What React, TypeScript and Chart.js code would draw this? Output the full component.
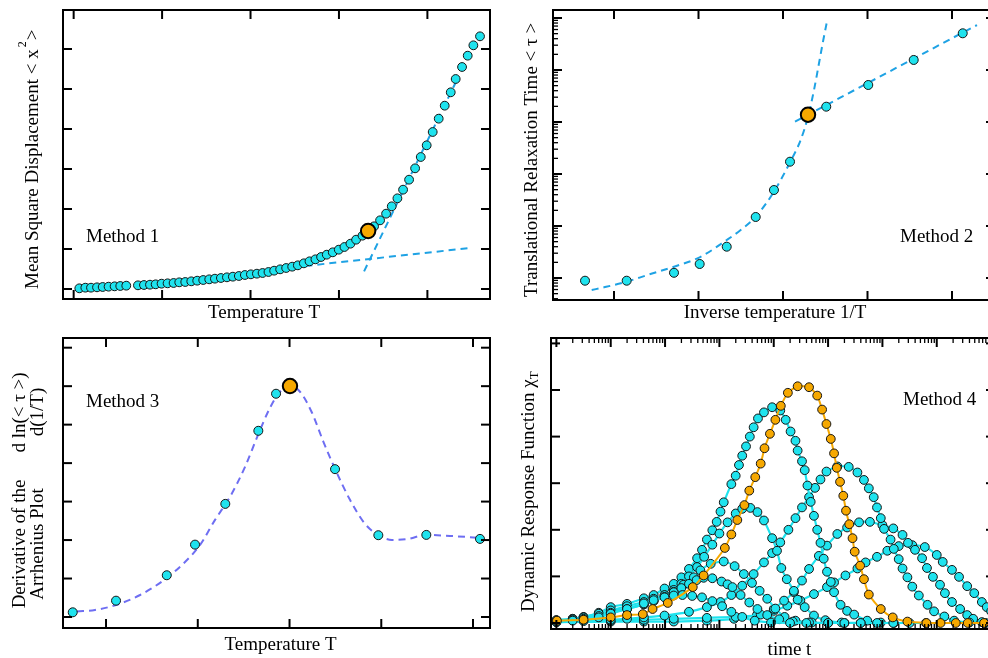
import React, { useEffect, useRef } from 'react';
import { Chart, registerables } from 'chart.js';

Chart.register(...registerables);

// ---------------- data ----------------
// Panel 1: mean square displacement vs temperature
const P1_TEMPERATURE = [1.064, 1.132, 1.196, 1.264, 1.328, 1.395, 1.463, 1.527, 1.595, 1.727, 1.795, 1.863, 1.927, 1.994, 2.062, 2.13, 2.194, 2.262, 2.33, 2.397, 2.465, 2.533, 2.597, 2.665, 2.733, 2.8, 2.868, 2.936, 3.004, 3.072, 3.136, 3.203, 3.267, 3.335, 3.403, 3.471, 3.535, 3.603, 3.667, 3.734, 3.798, 3.862, 3.93, 3.998, 4.062, 4.13, 4.194, 4.266, 4.33, 4.397, 4.465, 4.533, 4.597, 4.661, 4.725, 4.793, 4.861, 4.925, 4.992, 5.06, 5.128, 5.196, 5.264, 5.32, 5.392, 5.456, 5.52, 5.595];
const P1_MSD = [0.017, 0.033, 0.033, 0.042, 0.05, 0.058, 0.067, 0.075, 0.083, 0.092, 0.1, 0.108, 0.117, 0.133, 0.142, 0.15, 0.167, 0.175, 0.192, 0.208, 0.225, 0.242, 0.258, 0.275, 0.292, 0.308, 0.325, 0.35, 0.367, 0.383, 0.4, 0.425, 0.458, 0.492, 0.525, 0.558, 0.592, 0.642, 0.692, 0.742, 0.8, 0.858, 0.917, 0.983, 1.05, 1.133, 1.233, 1.333, 1.45, 1.567, 1.717, 1.883, 2.067, 2.267, 2.483, 2.733, 3.017, 3.3, 3.592, 3.925, 4.258, 4.583, 4.917, 5.25, 5.55, 5.833, 6.092, 6.317];
const P1_LOW_FIT_T = [3.486, 5.482];
const P1_LOW_FIT_MSD = [0.544, 1.025];
const P1_HIGH_FIT_T = [4.284, 5.35];
const P1_HIGH_FIT_MSD = [0.442, 5.3];
const P1_TRANSITION_T = [4.33];
const P1_TRANSITION_MSD = [1.45];
const P1_X_TICKS = [1, 2, 3, 4, 5];
const P1_Y_TICKS = [0, 1, 2, 3, 4, 5, 6];

// Panel 2: relaxation time vs inverse temperature
const P2_INV_T = [0.657, 1.15, 1.71, 2.014, 2.334, 2.677, 2.893, 3.083, 3.296, 3.512, 4.009, 4.547, 5.127];
const P2_TAU = [0.887, 0.887, 1.26, 1.86, 4.0, 14.9, 49.2, 172.5, 1380, 1970, 5150, 15600, 50800];
const P2_VFT_INV_T = [0.736, 0.882, 1.15, 1.394, 1.71, 2.014, 2.334, 2.499, 2.677, 2.893, 3.083, 3.209, 3.296, 3.367, 3.426, 3.477, 3.524];
const P2_VFT_TAU = [0.588, 0.662, 0.849, 1.14, 1.65, 2.5, 5.38, 8.37, 15.1, 45.7, 168, 451, 1265, 4125, 13460, 37760, 91600];
const P2_ARR_INV_T = [3.142, 5.296];
const P2_ARR_TAU = [1014, 73300];
const P2_TRANSITION_INV_T = [3.296];
const P2_TRANSITION_TAU = [1380];
const P2_X_TICKS = [1, 2, 3, 4, 5];
const P2_Y_DECADES = [0.1, 1, 10, 100, 1000, 10000, 100000];

// Panel 3: derivative of the Arrhenius plot vs temperature
const P3_TEMPERATURE = [0.637, 1.109, 1.662, 1.97, 2.3, 2.66, 2.853, 3.005, 3.496, 3.968, 4.491, 5.076];
const P3_DERIV = [0.122, 0.424, 1.085, 1.881, 2.94, 4.84, 5.803, 6.003, 3.843, 2.126, 2.134, 2.03];
const P3_FIT_T = [0.684, 0.88, 1.109, 1.371, 1.662, 1.861, 2.025, 2.188, 2.351, 2.515, 2.657, 2.787, 2.896, 3.005, 3.114, 3.245, 3.365, 3.496, 3.659, 3.823, 3.965, 4.117, 4.292, 4.488, 4.749, 5.076];
const P3_FIT_DERIV = [0.143, 0.182, 0.312, 0.572, 1.015, 1.431, 1.874, 2.524, 3.123, 3.903, 4.736, 5.438, 5.855, 6.011, 5.855, 5.308, 4.58, 3.851, 3.045, 2.42, 2.134, 2.004, 2.03, 2.134, 2.108, 2.056];
const P3_TRANSITION_T = [3.005];
const P3_TRANSITION_DERIV = [6.003];
const P3_X_TICKS = [1, 2, 3, 4, 5];
const P3_Y_TICKS = [0, 1, 2, 3, 4, 5, 6, 7];

// Panel 4: dynamic response functions, pairs of [log10(time), chi_T]
const P4_CURVE_1 = [[-1.0, 0.03], [-0.7, 0.05], [-0.5, 0.07], [-0.22, 0.12], [0, 0.2], [0.3, 0.3], [0.61, 0.42], [0.79, 0.49], [0.99, 0.55], [1.16, 0.59], [1.32, 0.6], [1.5, 0.58], [1.68, 0.55], [1.87, 0.47], [2.05, 0.36], [2.22, 0.24], [2.42, 0.13], [2.65, 0.05], [2.95, 0.01], [3.3, 0.0], [3.6, 0.0]];
const P4_CURVE_2 = [[-1.0, 0.04], [-0.7, 0.06], [-0.5, 0.09], [-0.22, 0.15], [0, 0.22], [0.3, 0.3], [0.61, 0.4], [0.79, 0.47], [0.99, 0.56], [1.16, 0.66], [1.3, 0.75], [1.44, 0.84], [1.58, 0.92], [1.71, 0.97], [1.87, 0.96], [2.04, 0.89], [2.15, 0.83], [2.24, 0.77], [2.39, 0.6], [2.55, 0.44], [2.7, 0.3], [2.88, 0.17], [3.1, 0.08], [3.35, 0.03], [3.65, 0.01], [4.0, 0.0], [4.3, 0.0]];
const P4_CURVE_3 = [[-1.0, 0.05], [-0.7, 0.08], [-0.5, 0.12], [-0.22, 0.2], [0, 0.27], [0.3, 0.36], [0.61, 0.45], [0.79, 0.52], [0.99, 0.6], [1.16, 0.67], [1.34, 0.82], [1.53, 0.98], [1.65, 1.13], [1.84, 1.27], [2.08, 1.32], [2.28, 1.22], [2.45, 1.05], [2.6, 0.86], [2.74, 0.69], [2.88, 0.52], [3.03, 0.31], [3.2, 0.13], [3.4, 0.05], [3.7, 0.01], [4.0, 0.0], [4.3, 0.0], [4.6, 0.0]];
const P4_CURVE_4 = [[-1.0, 0.06], [-0.7, 0.09], [-0.5, 0.12], [-0.22, 0.18], [0, 0.25], [0.3, 0.31], [0.61, 0.4], [0.79, 0.48], [0.99, 0.59], [1.16, 0.71], [1.3, 0.84], [1.44, 1.0], [1.59, 1.2], [1.72, 1.42], [1.87, 1.68], [2.0, 1.92], [2.15, 2.16], [2.3, 2.35], [2.42, 2.45], [2.57, 2.47], [2.7, 2.38], [2.82, 2.2], [2.97, 1.82], [3.06, 1.55], [3.14, 1.18], [3.24, 0.94], [3.37, 0.69], [3.44, 0.5], [3.57, 0.34], [3.74, 0.16], [3.95, 0.06], [4.25, 0.01], [4.6, 0.0], [4.9, 0.0], [5.2, 0.0]];
const P4_CURVE_5 = [[-1.0, 0.06], [-0.7, 0.09], [-0.5, 0.13], [-0.22, 0.22], [0, 0.34], [0.3, 0.41], [0.61, 0.53], [0.79, 0.6], [0.99, 0.74], [1.16, 0.84], [1.3, 0.98], [1.44, 1.16], [1.59, 1.39], [1.68, 1.57], [1.77, 1.79], [1.87, 1.99], [1.95, 2.17], [2.02, 2.39], [2.08, 2.59], [2.22, 2.98], [2.3, 3.16], [2.36, 3.39], [2.42, 3.59], [2.49, 3.79], [2.56, 4.0], [2.63, 4.2], [2.71, 4.39], [2.82, 4.52], [2.97, 4.63], [3.12, 4.56], [3.22, 4.36], [3.31, 4.11], [3.4, 3.91], [3.44, 3.7], [3.52, 3.47], [3.57, 3.28], [3.62, 2.95], [3.68, 2.6], [3.74, 2.3], [3.8, 2.0], [3.86, 1.72], [3.92, 1.38], [3.98, 1.1], [4.05, 0.88], [4.11, 0.66], [4.23, 0.39], [4.35, 0.26], [4.48, 0.18], [4.72, 0.05], [4.97, 0.01], [5.21, 0.0], [5.5, 0.0], [5.8, 0.0]];
const P4_CURVE_7 = [[-1.0, 0.02], [-0.5, 0.04], [0, 0.07], [0.3, 0.09], [0.61, 0.12], [0.99, 0.16], [1.44, 0.24], [1.77, 0.34], [2.02, 0.45], [2.22, 0.6], [2.42, 0.8], [2.63, 1.05], [2.82, 1.3], [2.97, 1.5], [3.12, 1.73], [3.27, 2.0], [3.4, 2.25], [3.52, 2.48], [3.65, 2.7], [3.76, 2.9], [3.86, 3.08], [3.97, 3.25], [4.17, 3.36], [4.38, 3.35], [4.54, 3.23], [4.66, 3.07], [4.75, 2.89], [4.84, 2.7], [4.9, 2.48], [4.97, 2.25], [5.03, 2.02], [5.15, 1.79], [5.21, 1.59], [5.3, 1.37], [5.37, 1.17], [5.46, 0.98], [5.55, 0.78], [5.67, 0.59], [5.83, 0.39], [5.95, 0.25], [6.14, 0.14], [6.32, 0.05], [6.6, 0.01], [6.9, 0.0]];
const P4_CURVE_8 = [[-1.0, 0.02], [0, 0.05], [0.61, 0.07], [1.16, 0.09], [1.77, 0.11], [2.3, 0.13], [2.76, 0.18], [3.0, 0.3], [3.19, 0.48], [3.37, 0.66], [3.52, 0.91], [3.65, 1.16], [3.83, 1.44], [3.98, 1.66], [4.17, 1.91], [4.35, 2.05], [4.57, 2.16], [4.77, 2.17], [5.0, 2.1], [5.2, 2.03], [5.37, 1.89], [5.47, 1.72], [5.6, 1.57], [5.73, 1.39], [5.82, 1.18], [5.93, 0.99], [6.06, 0.82], [6.15, 0.64], [6.28, 0.45], [6.43, 0.3], [6.56, 0.17], [6.67, 0.09], [6.83, 0.02], [6.98, 0.0]];
const P4_CURVE_9 = [[-1.0, 0.02], [0, 0.03], [0.61, 0.03], [1.16, 0.03], [1.77, 0.05], [2.27, 0.09], [2.69, 0.17], [3.0, 0.26], [3.25, 0.37], [3.49, 0.48], [3.74, 0.62], [3.98, 0.77], [4.11, 0.87], [4.32, 1.02], [4.54, 1.17], [4.69, 1.3], [4.9, 1.42], [5.09, 1.55], [5.3, 1.65], [5.55, 1.67], [5.78, 1.63], [6.0, 1.46], [6.11, 1.31], [6.28, 1.14], [6.41, 0.99], [6.56, 0.79], [6.69, 0.64], [6.83, 0.45], [6.92, 0.34], [7.0, 0.25]];
const P4_CYAN_CURVES = [P4_CURVE_1, P4_CURVE_2, P4_CURVE_3, P4_CURVE_4, P4_CURVE_5, P4_CURVE_7, P4_CURVE_8, P4_CURVE_9];
const P4_ORANGE_CURVE = [[-0.99, 0.05], [-0.5, 0.07], [0.0, 0.12], [0.3, 0.17], [0.59, 0.19], [0.77, 0.3], [1.05, 0.43], [1.51, 0.77], [1.71, 1.02], [2.1, 1.61], [2.22, 1.9], [2.33, 2.21], [2.46, 2.53], [2.55, 2.84], [2.66, 3.13], [2.76, 3.42], [2.83, 3.75], [2.93, 4.06], [3.03, 4.36], [3.13, 4.66], [3.26, 4.94], [3.44, 5.08], [3.65, 5.06], [3.8, 4.88], [3.89, 4.58], [3.97, 4.27], [4.05, 3.95], [4.11, 3.64], [4.16, 3.33], [4.22, 3.03], [4.28, 2.73], [4.33, 2.41], [4.39, 2.12], [4.45, 1.82], [4.49, 1.53], [4.59, 1.23], [4.66, 0.94], [4.75, 0.61], [4.97, 0.3], [5.19, 0.12], [5.46, 0.03], [5.81, 0.0], [6.07, 0.0], [6.35, 0.0], [6.57, 0.0], [6.87, 0.0]];
const P4_X_DECADES = [0.1, 1, 10, 100, 1000, 10000, 100000, 1000000, 10000000];
const P4_Y_TICKS = [0, 1, 2, 3, 4, 5, 6];

// ---------------- styles ----------------
const FONT = '"Liberation Serif", "Times New Roman", "DejaVu Serif", serif';
const CYAN = '#1FE3EE';
const ORANGE = '#F6A800';
const EDGE = '#151515';
const FIT_BLUE = '#1EA2E4';
const FIT_VIOLET = '#6E6EF2';
const MINOR_FACTORS = [2, 3, 4, 5, 6, 7, 8, 9];

const pairs = (xs: number[], ys: number[]) => xs.map((x, i) => ({ x, y: ys[i] }));
const fromLogTime = (curve: number[][]) => curve.map(([lt, c]) => ({ x: Math.pow(10, lt), y: c }));
const minorsOf = (decades: number[]) => decades.flatMap((d) => MINOR_FACTORS.map((f) => d * f));

type Run = { t: string; size?: number; dy?: number; gap?: number };
type Label = { x: number; y: number; runs: Run[]; align?: 'left' | 'center'; rot?: boolean };
type FrameSpec = { xMajor: number[]; xMinor?: number[]; yMajor: number[]; yMinor?: number[]; labels: Label[] };

function framePlugin(spec: FrameSpec) {
  return {
    id: 'frame',
    afterDraw(chart: any) {
      const { ctx, chartArea: a } = chart;
      const xs = chart.scales.x;
      const ys = chart.scales.y;
      ctx.save();
      ctx.strokeStyle = '#000';
      const seg = (x1: number, y1: number, x2: number, y2: number, w: number) => {
        ctx.lineWidth = w;
        ctx.beginPath();
        ctx.moveTo(x1, y1);
        ctx.lineTo(x2, y2);
        ctx.stroke();
      };
      const xt = (vals: number[], len: number, w: number) =>
        vals.forEach((v) => {
          const p = xs.getPixelForValue(v);
          if (p < a.left - 0.5 || p > a.right + 0.5) return;
          seg(p, a.bottom, p, a.bottom - len, w);
          seg(p, a.top, p, a.top + len, w);
        });
      const yt = (vals: number[], len: number, w: number) =>
        vals.forEach((v) => {
          const p = ys.getPixelForValue(v);
          if (p < a.top - 0.5 || p > a.bottom + 0.5) return;
          seg(a.left, p, a.left + len, p, w);
          seg(a.right, p, a.right - len, p, w);
        });
      xt(spec.xMajor, 9, 2);
      xt(spec.xMinor || [], 5, 1.3);
      yt(spec.yMajor, 9, 2);
      yt(spec.yMinor || [], 5, 1.3);
      ctx.lineWidth = 2;
      ctx.strokeRect(a.left, a.top, a.right - a.left, a.bottom - a.top);

      ctx.fillStyle = '#000';
      ctx.textBaseline = 'alphabetic';
      ctx.textAlign = 'left';
      for (const lab of spec.labels) {
        ctx.save();
        ctx.translate(lab.x, lab.y);
        if (lab.rot) ctx.rotate(-Math.PI / 2);
        let total = 0;
        for (const r of lab.runs) {
          ctx.font = `${r.size || 19}px ${FONT}`;
          total += (r.gap || 0) + ctx.measureText(r.t).width;
        }
        let pos = lab.align === 'center' ? -total / 2 : 0;
        for (const r of lab.runs) {
          ctx.font = `${r.size || 19}px ${FONT}`;
          pos += r.gap || 0;
          ctx.fillText(r.t, pos, r.dy || 0);
          pos += ctx.measureText(r.t).width;
        }
        ctx.restore();
      }
      ctx.restore();
    },
  };
}

function baseOptions(padding: any, x: any, y: any) {
  return {
    responsive: false,
    maintainAspectRatio: false,
    animation: false,
    devicePixelRatio: 1,
    events: [],
    layout: { padding, autoPadding: false },
    plugins: { legend: { display: false }, tooltip: { enabled: false } },
    scales: { x: { display: false, ...x }, y: { display: false, ...y } },
  };
}

const cyanPoints = (data: any[], r = 4.5) => ({
  data, showLine: false, pointRadius: r, pointBackgroundColor: CYAN, pointBorderColor: EDGE, pointBorderWidth: 1, order: 1,
});
const bigOrange = (data: any[]) => ({
  data, showLine: false, pointRadius: 7.2, pointBackgroundColor: ORANGE, pointBorderColor: '#000', pointBorderWidth: 2, order: 0,
});
const dashed = (data: any[], color: string, smooth: boolean) => ({
  data, showLine: true, borderColor: color, borderWidth: 2, borderDash: [7, 5], pointRadius: 0,
  cubicInterpolationMode: smooth ? 'monotone' : 'default', tension: smooth ? 0.4 : 0, order: 2,
});

function panel1(): any {
  return {
    type: 'scatter',
    data: {
      datasets: [
        bigOrange(pairs(P1_TRANSITION_T, P1_TRANSITION_MSD)),
        cyanPoints(pairs(P1_TEMPERATURE, P1_MSD), 4.4),
        dashed(pairs(P1_LOW_FIT_T, P1_LOW_FIT_MSD), FIT_BLUE, false),
        dashed(pairs(P1_HIGH_FIT_T, P1_HIGH_FIT_MSD), FIT_BLUE, false),
      ],
    },
    options: baseOptions({ left: 63, top: 10, right: 4, bottom: 30 }, { type: 'linear', min: 0.8795, max: 5.708 }, { type: 'linear', min: -0.25, max: 6.975 }),
    plugins: [framePlugin({
      xMajor: P1_X_TICKS, yMajor: P1_Y_TICKS,
      labels: [
        { x: 264, y: 318, align: 'center', runs: [{ t: 'Temperature T' }] },
        { x: 38, y: 289, rot: true, runs: [{ t: 'Mean Square Displacement < x' }, { t: '2', size: 12, dy: -12, gap: 2 }, { t: '>', gap: 1 }] },
        { x: 86, y: 241.5, runs: [{ t: 'Method 1' }] },
      ],
    })],
  };
}

function panel2(): any {
  return {
    type: 'scatter',
    data: {
      datasets: [
        bigOrange(pairs(P2_TRANSITION_INV_T, P2_TRANSITION_TAU)),
        cyanPoints(pairs(P2_INV_T, P2_TAU)),
        dashed(pairs(P2_VFT_INV_T, P2_VFT_TAU), FIT_BLUE, true),
        dashed(pairs(P2_ARR_INV_T, P2_ARR_TAU), FIT_BLUE, false),
      ],
    },
    options: baseOptions({ left: 59, top: 10, right: 5, bottom: 29 }, { type: 'linear', min: 0.278, max: 5.509 }, { type: 'logarithmic', min: 0.3776, max: 142500 }),
    plugins: [framePlugin({
      xMajor: P2_X_TICKS, yMajor: P2_Y_DECADES, yMinor: minorsOf(P2_Y_DECADES),
      labels: [
        { x: 281, y: 318, align: 'center', runs: [{ t: 'Inverse temperature 1/T' }] },
        { x: 43.3, y: 297, rot: true, runs: [{ t: 'Translational Relaxation Time < τ >' }] },
        { x: 406, y: 241.5, runs: [{ t: 'Method 2' }] },
      ],
    })],
  };
}

function panel3(): any {
  return {
    type: 'scatter',
    data: {
      datasets: [
        bigOrange(pairs(P3_TRANSITION_T, P3_TRANSITION_DERIV)),
        cyanPoints(pairs(P3_TEMPERATURE, P3_DERIV)),
        dashed(pairs(P3_FIT_T, P3_FIT_DERIV), FIT_VIOLET, true),
      ],
    },
    options: baseOptions({ left: 63, top: 9, right: 4, bottom: 30 }, { type: 'linear', min: 0.531, max: 5.185 }, { type: 'linear', min: -0.286, max: 7.252 }),
    plugins: [framePlugin({
      xMajor: P3_X_TICKS, yMajor: P3_Y_TICKS,
      labels: [
        { x: 280.5, y: 321, align: 'center', runs: [{ t: 'Temperature T' }] },
        { x: 25, y: 215, rot: true, align: 'center', runs: [{ t: 'Derivative of the' }] },
        { x: 43, y: 215, rot: true, align: 'center', runs: [{ t: 'Arrhenius Plot' }] },
        { x: 25, y: 83.5, rot: true, align: 'center', runs: [{ t: 'd ln(< τ >)' }] },
        { x: 43, y: 83, rot: true, align: 'center', runs: [{ t: 'd(1/T)' }] },
        { x: 86, y: 78, runs: [{ t: 'Method 3' }] },
      ],
    })],
  };
}

function panel4(): any {
  const cyan = P4_CYAN_CURVES.map((c) => ({
    data: fromLogTime(c), showLine: true, borderColor: CYAN, borderWidth: 2.2, tension: 0.2,
    pointRadius: 4.4, pointBackgroundColor: CYAN, pointBorderColor: EDGE, pointBorderWidth: 1, order: 1,
  }));
  const orange = {
    data: fromLogTime(P4_ORANGE_CURVE), showLine: true, borderColor: ORANGE, borderWidth: 2, tension: 0.2,
    pointRadius: 4.4, pointBackgroundColor: ORANGE, pointBorderColor: EDGE, pointBorderWidth: 1, order: 0,
  };
  return {
    type: 'scatter',
    data: { datasets: [orange, ...cyan] },
    options: baseOptions({ left: 57, top: 9, right: 5, bottom: 29 }, { type: 'logarithmic', min: 0.0796, max: 11800000 }, { type: 'linear', min: -0.129, max: 6.116 }),
    plugins: [framePlugin({
      xMajor: P4_X_DECADES, xMinor: minorsOf(P4_X_DECADES), yMajor: P4_Y_TICKS,
      labels: [
        { x: 295.5, y: 326, align: 'center', runs: [{ t: 'time t' }] },
        { x: 39.5, y: 283, rot: true, runs: [{ t: 'Dynamic Response Function χ' }, { t: 'T', size: 13, dy: 4 }] },
        { x: 409, y: 76, runs: [{ t: 'Method 4' }] },
      ],
    })],
  };
}

function PanelChart({ left, top, width, height, build }: { left: number; top: number; width: number; height: number; build: () => any }) {
  const ref = useRef<HTMLCanvasElement>(null);
  useEffect(() => {
    const chart = new Chart(ref.current as HTMLCanvasElement, build());
    return () => chart.destroy();
  }, [build]);
  return <canvas ref={ref} width={width} height={height} style={{ position: 'absolute', left, top, width, height }} />;
}

export default function App() {
  return (
    <div style={{ position: 'absolute', left: 0, top: 0, width: 988, height: 658, overflow: 'hidden', background: '#fff' }}>
      <PanelChart left={0} top={0} width={494} height={329} build={panel1} />
      <PanelChart left={494} top={0} width={506} height={329} build={panel2} />
      <PanelChart left={0} top={329} width={494} height={329} build={panel3} />
      <PanelChart left={494} top={329} width={506} height={329} build={panel4} />
    </div>
  );
}
